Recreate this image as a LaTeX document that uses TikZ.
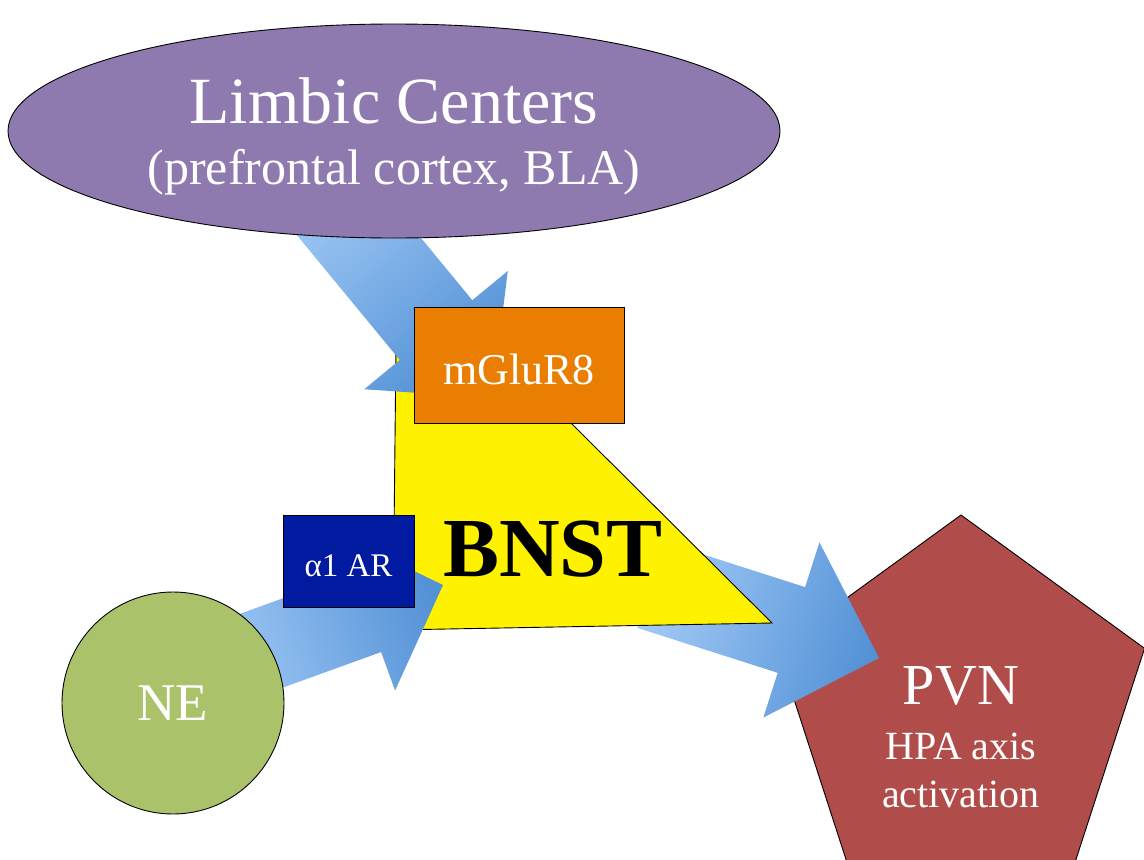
\documentclass[tikz,border=0pt]{standalone}
\usepackage{fontspec}
\setmainfont{Liberation Serif}
\usetikzlibrary{shapes.geometric, calc, positioning}
\definecolor{limbicpurple}{RGB}{143,122,176}
\definecolor{negreen}{RGB}{170,195,106}
\definecolor{pvnred}{RGB}{176,76,74}
\definecolor{mgluorange}{RGB}{233,126,2}
\definecolor{alphablue}{RGB}{0,26,160}
\definecolor{arrowlight}{RGB}{162,202,247}
\definecolor{arrowdark}{RGB}{84,146,214}

% block arrow: start, tip, shaft half width, head half width, head length, shading angle
\newcommand{\blockarrow}[6]{%
  \coordinate (hb) at ($(#2)!#5!(#1)$);
  \shade[left color=arrowlight, right color=arrowdark, shading angle=#6]
    ($(#1)!#3!90:(#2)$) -- ($(hb)!#3!-90:(#1)$) -- ($(hb)!#4!-90:(#1)$) -- (#2)
    -- ($(hb)!#4!90:(#1)$) -- ($(hb)!#3!90:(#1)$) -- ($(#1)!#3!-90:(#2)$) -- cycle;
}

\begin{document}
\begin{tikzpicture}[x=1pt, y=-1pt,
    shapeline/.style={draw=black, line width=0.9pt},
    boxnode/.style={shapeline, rectangle, inner sep=0pt, text=white, text depth=0pt}]
  \useasboundingbox (0,0) rectangle (1144,860);
  \clip (0,0) rectangle (1144,860);

  % PVN
  \node[regular polygon, regular polygon sides=5, minimum size=386pt, inner sep=0pt,
        shapeline, fill=pvnred] (pvn) at (961,708) {};

  % arrow ends
  \coordinate (limbicout) at (314,182);
  \coordinate (mgluin) at (492,398);
  \coordinate (neout) at (208,670);
  \coordinate (alphain) at (443,585);
  \coordinate (bnstout) at (651,585);
  \coordinate (pvnin) at (879,658);

  \blockarrow{bnstout}{pvnin}{45pt}{92pt}{92pt}{72.7}

  % BNST
  \coordinate (bnsttop) at (397,250);
  \coordinate (bnstleft) at (393,630);
  \coordinate (bnstright) at (772,623);
  \filldraw[shapeline, fill=yellow] (bnsttop) -- (bnstleft) -- (bnstright) -- cycle;

  \blockarrow{limbicout}{mgluin}{47pt}{93pt}{88pt}{39.4}

  \node[ellipse, shapeline, fill=limbicpurple, minimum width=772pt, minimum height=214pt,
        inner sep=0pt] (limbic) at (394,131) {};
  \node[text=white, align=center, font=\fontsize{50}{61}\selectfont] (limbictext) at (394,136)
    {{\fontsize{66}{66}\selectfont Limbic Centers}\\(prefrontal cortex, BLA)};

  \node[boxnode, fill=mgluorange, minimum width=210pt, minimum height=116pt, text height=38pt,
        font=\fontsize{44}{44}\selectfont] (mglu) at (519,365) {mGluR8};

  \blockarrow{neout}{alphain}{42pt}{83pt}{81pt}{110}

  \node[boxnode, fill=alphablue, minimum width=131pt, minimum height=92pt, text height=31pt,
        font=\fontsize{33}{33}\selectfont] (alpha) at (348.5,561) {α1 AR};

  \node[circle, shapeline, fill=negreen, minimum size=222pt, inner sep=0pt, text=white,
        font=\fontsize{53}{53}\selectfont] (ne) at (173,703) {NE};

  \node[font=\bfseries\fontsize{84}{84}\selectfont] (bnst) at (553,549) {BNST};

  \node[text=white, align=center, font=\fontsize{40}{48}\selectfont] (pvntext) at (961,737.5)
    {{\fontsize{58}{58}\selectfont PVN}\\[7pt]HPA axis\\activation};
\end{tikzpicture}
\end{document}
